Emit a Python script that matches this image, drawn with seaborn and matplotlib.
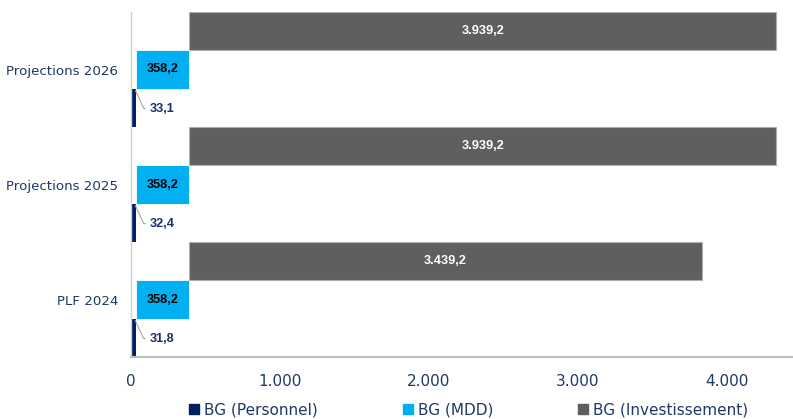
import matplotlib
matplotlib.use("Agg")
import matplotlib.pyplot as plt
from matplotlib.lines import Line2D
import seaborn as sns
import numpy as np

categories = ["PLF 2024", "Projections 2025", "Projections 2026"]
personnel = [31.8, 32.4, 33.1]
mdd = [358.2, 358.2, 358.2]
investissement = [3439.2, 3939.2, 3939.2]
series_names = ["BG (Personnel)", "BG (MDD)", "BG (Investissement)"]
colors = ["#002060", "#00B0F0", "#5F5F5F"]


def fr(v):
    s = f"{v:,.1f}"
    return s.replace(",", " ").replace(".", ",").replace(" ", ".")


sns.set_theme(style="white")
plt.rcParams["font.family"] = ["DejaVu Sans"]
navy = "#1F3864"

fig = plt.figure(figsize=(7.93, 4.19), dpi=100)
ax = fig.add_axes([131 / 793, 62 / 419, 662 / 793, 345 / 419])

base = np.arange(len(categories)) * 3
p = np.array(personnel)
m = np.array(mdd)
inv = np.array(investissement)

ax.barh(base + 0, p, height=1.0, color=colors[0], edgecolor="none")
ax.barh(base + 1, m, left=p, height=1.0, color=colors[1], edgecolor="white", linewidth=0.6)
ax.barh(base + 2, inv, left=p + m, height=1.0, color=colors[2], edgecolor="#B0B0B0", linewidth=0.8)

lab_font = dict(family=["Liberation Sans", "DejaVu Sans"], fontsize=9.2, fontweight="bold")
for i in range(len(categories)):
    ax.text(p[i] + m[i] / 2, base[i] + 1, fr(m[i]), ha="center", va="center", color="black", **lab_font)
    ax.text(p[i] + m[i] + inv[i] / 2, base[i] + 2, fr(inv[i]), ha="center", va="center", color="white", **lab_font)
    ax.annotate(fr(p[i]), xy=(p[i] * 0.9, base[i] + 0.45), xytext=(128, base[i] - 0.02),
                ha="left", va="center", color="#1F2F6B", **lab_font,
                arrowprops=dict(arrowstyle="-", color="#A6A6A6", lw=0.8,
                                connectionstyle="angle,angleA=0,angleB=-65,rad=0",
                                shrinkA=1, shrinkB=0))

ax.set_xlim(0, 662 / 149 * 1000)
ax.set_ylim(-0.5, 8.5)
ax.set_yticks(base + 1)
ax.set_yticklabels(categories, fontsize=9.6, color=navy)
xt = [0, 1000, 2000, 3000, 4000]
ax.set_xticks(xt)
ax.set_xticklabels([f"{v:,}".replace(",", ".") for v in xt], fontsize=11, color=navy)
ax.tick_params(axis="x", length=0, pad=12)
ax.tick_params(axis="y", length=0, pad=9)

for s in ["top", "right"]:
    ax.spines[s].set_visible(False)
ax.spines["left"].set_color("#D0D0D0")
ax.spines["left"].set_linewidth(1.0)
ax.spines["bottom"].set_color("#BFBFBF")
ax.spines["bottom"].set_linewidth(1.6)

handles = [Line2D([0], [0], marker="s", linestyle="none", markersize=6.5,
                  markerfacecolor=c, markeredgecolor=c) for c in colors]
fig.legend(handles, series_names, loc="center", bbox_to_anchor=(469 / 793, 9 / 419),
           ncol=3, frameon=False, fontsize=11, labelcolor=navy,
           handlelength=0.6, handletextpad=0.35, columnspacing=5.6, borderpad=0)

fig.savefig("out.png", dpi=100)
